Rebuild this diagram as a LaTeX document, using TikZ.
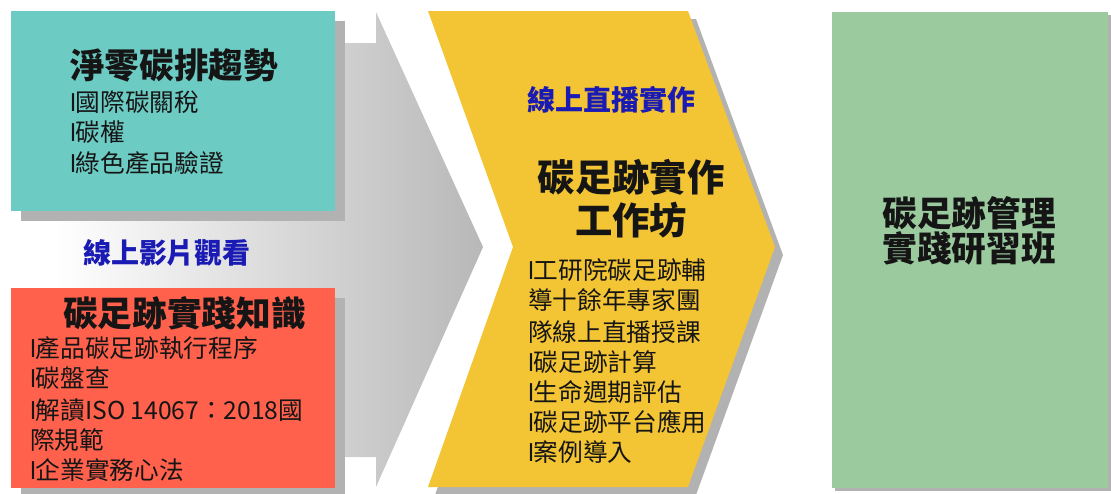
\documentclass[tikz,border=0pt]{standalone}
\usepackage{fontspec}
\setmainfont{Noto Sans CJK TC}
\newfontfamily\bulfont{Liberation Sans}
\newcommand{\myblt}{{\bulfont l}}
\definecolor{teal1}{HTML}{6CCBC3}
\definecolor{red1}{HTML}{FF614C}
\definecolor{yel1}{HTML}{F3C433}
\definecolor{grn1}{HTML}{9BCA9F}
\definecolor{shad}{HTML}{B2B2B2}
\definecolor{blu1}{HTML}{1A1AB4}
\definecolor{txt}{HTML}{151515}
\definecolor{arrg}{HTML}{B8B8B8}
\begin{document}
\begin{tikzpicture}[x=0.75pt,y=-0.75pt,
  ttl/.style={font=\bfseries\fontsize{26}{30}\selectfont, text=txt, inner sep=0},
  itm/.style={font=\fontsize{18.5}{22}\selectfont, anchor=west, inner sep=0, text=txt},
  blu/.style={font=\bfseries\fontsize{21}{24}\selectfont, text=blu1, inner sep=0}]
\useasboundingbox (0,0) rectangle (1111,493);
% big gray arrow
\shade[left color=white, right color=arrg]
  (55,43) -- (376,43) -- (376,12) -- (483,247) -- (376,487) -- (376,457) -- (55,457) -- cycle;
% teal box
\fill[shad] (21,21) rectangle (345,221);
\fill[teal1] (11,11) rectangle (335,211);
% red box
\fill[shad] (21,298) rectangle (345,498);
\fill[red1] (11,288) rectangle (335,488);
% yellow chevron
\fill[shad] (435,19) -- (696,19) -- (783,255) -- (696,495) -- (435,495) -- (521,255) -- cycle;
\fill[yel1] (428,11) -- (688,11) -- (775,247) -- (688,487) -- (428,487) -- (513,247) -- cycle;
% green box
\fill[shad] (835,15) rectangle (1111,491);
\fill[grn1] (832,12) rectangle (1108,488);

% teal text
\node[ttl, anchor=west] (t1) at (70,65) {淨零碳排趨勢};
\node[itm] (t2) at (70,102) {\myblt 國際碳關稅};
\node[itm] (t3) at (70,132) {\myblt 碳權};
\node[itm] (t4) at (70,163) {\myblt 綠色產品驗證};
% blue label left
\node[blu] (b1) at (167,253) {線上影片觀看};
% red text
\node[ttl, anchor=west] (r1) at (63,313) {碳足跡實踐知識};
\node[itm] (r2) at (30,348) {\myblt 產品碳足跡執行程序};
\node[itm] (r3) at (30,378) {\myblt 碳盤查};
\node[itm] (r4) at (30,410) {\myblt 解讀ISO 14067：2018國};
\node[itm] (r5) at (30,440) {際規範};
\node[itm] (r6) at (30,470) {\myblt 企業實務心法};
% yellow text
\node[blu, anchor=west] (y0) at (527,100) {線上直播實作};
\node[ttl, font=\bfseries\fontsize{28}{32}\selectfont] (y1) at (631,177) {碳足跡實作};
\node[ttl, font=\bfseries\fontsize{28}{32}\selectfont] (y2) at (631,220) {工作坊};
\node[itm] (y3) at (528,270) {\myblt 工研院碳足跡輔};
\node[itm] (y4) at (528,300) {導十餘年專家團};
\node[itm] (y5) at (528,332) {隊線上直播授課};
\node[itm] (y6) at (528,362) {\myblt 碳足跡計算};
\node[itm] (y7) at (528,392) {\myblt 生命週期評估};
\node[itm] (y8) at (528,422) {\myblt 碳足跡平台應用};
\node[itm] (y9) at (528,452) {\myblt 案例導入};
% green text
\node[ttl] (g1) at (969,213) {碳足跡管理};
\node[ttl] (g2) at (969,248) {實踐研習班};
\end{tikzpicture}
\end{document}
